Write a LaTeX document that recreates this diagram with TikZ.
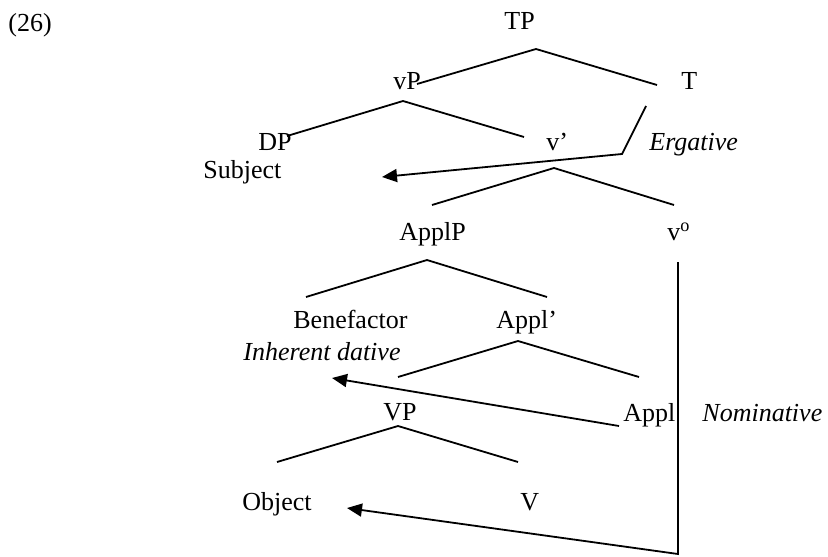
\documentclass[tikz,border=0pt]{standalone}
\usepackage{fontspec}
\setmainfont{Liberation Serif}
\usetikzlibrary{arrows.meta}

\begin{document}
\begin{tikzpicture}[x=0.5pt,y=-0.5pt,
  word/.style={anchor=base west, inner sep=0pt, font=\fontsize{13}{15}\selectfont},
  caselabel/.style={word, font=\fontsize{13}{15}\selectfont\itshape},
  branch/.style={line width=0.9pt},
  assign/.style={line width=0.9pt, -{Triangle[length=7.5pt,width=6.5pt]}}]

\useasboundingbox (0,0) rectangle (828,556);

% example number
\node[word] (ex) at (8,32) {(26)};

% tree labels
\node[word] (tp)     at (504,30)  {TP};
\node[word] (vp)     at (393,90)  {vP};
\node[word] (t)      at (681,90)  {T};
\node[word] (dp)     at (258,150) {DP};
\node[word] (subj)   at (203,178) {Subject};
\node[word] (vbar)   at (546,150) {v’};
\node[word] (vhead)  at (667,240) {v\textsuperscript{o}};
\node[word] (applp)  at (399,240) {ApplP};
\node[word] (benef)  at (293,328) {Benefactor};
\node[word] (applb)  at (496,328) {Appl’};
\node[word] (VP)     at (383,420) {VP};
\node[word] (appl)   at (623,421) {Appl};
\node[word] (obj)    at (242,510) {Object};
\node[word] (V)      at (520,510) {V};

% case labels
\node[caselabel] (erg) at (649,150) {Ergative};
\node[caselabel] (dat) at (243,360) {Inherent dative};
\node[caselabel] (nom) at (702,421) {Nominative};

% branch end points
\coordinate (tpA) at (536,49);  \coordinate (tpL) at (417,84);  \coordinate (tpR) at (657,85);
\coordinate (vpA) at (403,101); \coordinate (vpL) at (287,136); \coordinate (vpR) at (524,137);
\coordinate (vbA) at (554,168); \coordinate (vbL) at (432,205); \coordinate (vbR) at (674,205);
\coordinate (apA) at (427,260); \coordinate (apL) at (306,297); \coordinate (apR) at (547,297);
\coordinate (abA) at (518,341); \coordinate (abL) at (398,377); \coordinate (abR) at (639,377);
\coordinate (VPA) at (398,426); \coordinate (VPL) at (277,462); \coordinate (VPR) at (518,462);

\draw[branch] (tpL) -- (tpA) -- (tpR);
\draw[branch] (vpL) -- (vpA) -- (vpR);
\draw[branch] (vbL) -- (vbA) -- (vbR);
\draw[branch] (apL) -- (apA) -- (apR);
\draw[branch] (abL) -- (abA) -- (abR);
\draw[branch] (VPL) -- (VPA) -- (VPR);

% case assignment paths
\coordinate (ergTop) at (646,106); \coordinate (ergBot) at (622,154); \coordinate (ergTip) at (382,177);
\coordinate (datFrom) at (619,426); \coordinate (datTip) at (332,378);
\coordinate (nomTop) at (678,262); \coordinate (nomBot) at (678,554); \coordinate (nomTip) at (347,508);

\draw[assign] (ergTop) -- (ergBot) -- (ergTip);
\draw[assign] (datFrom) -- (datTip);
\draw[assign] (nomTop) -- (nomBot) -- (nomTip);
\end{tikzpicture}
\end{document}
